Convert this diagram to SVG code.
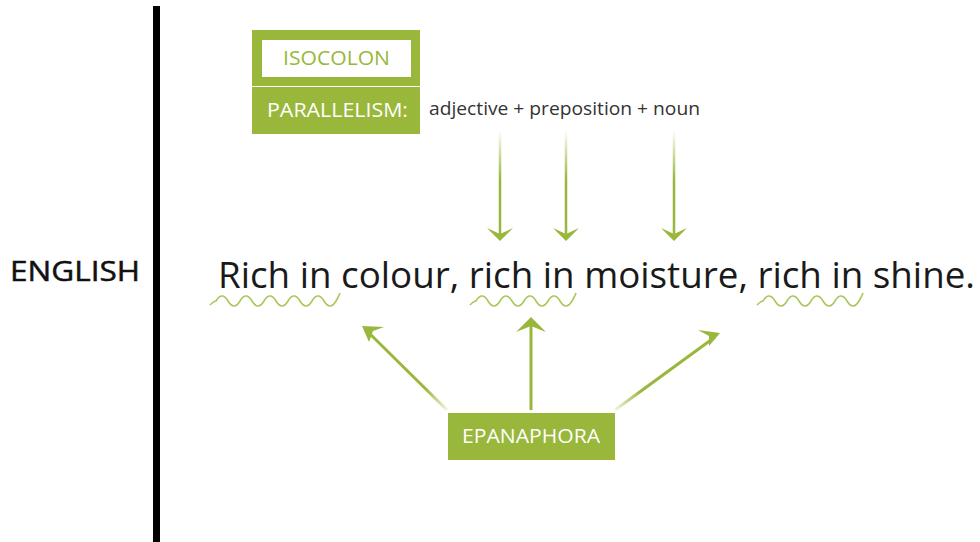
<svg xmlns="http://www.w3.org/2000/svg" width="980" height="542" viewBox="0 0 980 542">
<style>
.g{fill:#99b73a}
.t{font-family:"Open Sans","Noto Sans","Liberation Sans",sans-serif}
.wave{fill:none;stroke:#a8c75a;stroke-width:1.6}
</style>
<defs>
<linearGradient id="fadeDown" gradientUnits="userSpaceOnUse" x1="0" y1="130" x2="0" y2="240">
<stop offset="0" stop-color="#99b73a" stop-opacity="0"/>
<stop offset="0.45" stop-color="#99b73a" stop-opacity="1"/>
</linearGradient>
<linearGradient id="fadeL" gradientUnits="userSpaceOnUse" x1="447" y1="410" x2="362" y2="326">
<stop offset="0" stop-color="#99b73a" stop-opacity="0.15"/>
<stop offset="0.25" stop-color="#99b73a" stop-opacity="1"/>
</linearGradient>
<linearGradient id="fadeR" gradientUnits="userSpaceOnUse" x1="615" y1="410" x2="720" y2="333">
<stop offset="0" stop-color="#99b73a" stop-opacity="0.15"/>
<stop offset="0.25" stop-color="#99b73a" stop-opacity="1"/>
</linearGradient>
</defs>
<rect width="980" height="542" fill="#fff"/>
<rect x="153" y="6" width="7" height="536" fill="#000"/>
<text class="t" x="10" y="281" font-size="28" font-weight="500" fill="#111" stroke="#111" stroke-width="0.5" textLength="130" lengthAdjust="spacingAndGlyphs">ENGLISH</text>

<g id="isocolon">
<rect x="252" y="30" width="168" height="56" class="g"/>
<rect x="262" y="40" width="149" height="37" fill="#fff"/>
<text class="t" x="283" y="65" font-size="20" fill="#99b73a" textLength="107" lengthAdjust="spacingAndGlyphs">ISOCOLON</text>
</g>
<g id="parallelism">
<rect x="252" y="87" width="168" height="47" class="g"/>
<text class="t" x="267" y="117" font-size="20" fill="#fff" textLength="141" lengthAdjust="spacingAndGlyphs">PARALLELISM:</text>
</g>
<text class="t" x="429" y="115" font-size="19" fill="#333" textLength="271" lengthAdjust="spacingAndGlyphs">adjective + preposition + noun</text>

<text class="t" x="218" y="288" font-size="36" fill="#1a1a1a" textLength="757" lengthAdjust="spacingAndGlyphs">Rich in colour, rich in moisture, rich in shine.</text>

<g id="waves">
<path class="wave" d="M210,305 q4,-4 6,-4 q6,-10 12,0 t12,0 t12,0 t12,0 t12,0 t12,0 t12,0 t12,0 t12,0 t12,0 q3,-5 4,-8"/>
<path class="wave" d="M470,305 q4,-4 6,-4 q6,-10 12,0 t12,0 t12,0 t12,0 t12,0 t12,0 t12,0 t12,0 q3,-5 4,-8"/>
<path class="wave" d="M757,305 q4,-4 6,-4 q6,-10 12,0 t12,0 t12,0 t12,0 t12,0 t12,0 t12,0 t12,0 q3,-5 4,-8"/>
</g>

<g id="epanaphora">
<rect x="448" y="413" width="167" height="47" class="g"/>
<text class="t" x="462" y="443" font-size="20" fill="#fff" textLength="138" lengthAdjust="spacingAndGlyphs">EPANAPHORA</text>
</g>

<g id="connectors">
<path d="M500,130 V236" stroke="url(#fadeDown)" stroke-width="2.5" fill="none"/>
<path class="g" d="M500,241 l-13,-13 l13,6 l13,-6 z"/>
<path d="M566,130 V236" stroke="url(#fadeDown)" stroke-width="2.5" fill="none"/>
<path class="g" d="M566,241 l-13,-13 l13,6 l13,-6 z"/>
<path d="M674,130 V236" stroke="url(#fadeDown)" stroke-width="2.5" fill="none"/>
<path class="g" d="M674,241 l-13,-13 l13,6 l13,-6 z"/>

<path d="M447,410 L367,331" stroke="url(#fadeL)" stroke-width="3" fill="none"/>
<path class="g" d="M362,326 l22,1 l-11,4 l-4,11 z"/>
<path d="M531,410 V322" stroke="#99b73a" stroke-width="3" fill="none"/>
<path class="g" d="M531,317 l-15,15 l15,-6 l15,6 z"/>
<path d="M615,410 L715,337" stroke="url(#fadeR)" stroke-width="3" fill="none"/>
<path class="g" d="M720,333 l-22,-3 l11,6 l0,10 z"/>
</g>
</svg>
